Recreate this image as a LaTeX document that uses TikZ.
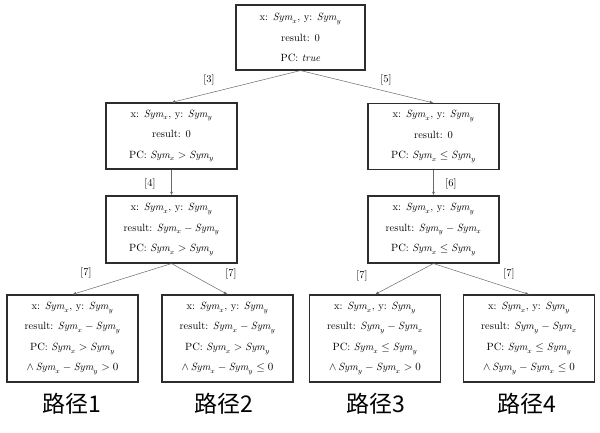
\documentclass[tikz,border=0pt]{standalone}
\usepackage{amsmath,amssymb}
\usepackage{fontspec}
\newfontfamily\cjk{Noto Sans CJK SC}
\usetikzlibrary{arrows.meta,positioning}
\definecolor{boxgray}{RGB}{45,45,45}
\definecolor{edgegray}{RGB}{105,105,105}
\newcommand{\symx}{\mathit{Sym}_x}
\newcommand{\symy}{\mathit{Sym}_y}

\begin{document}
\begin{tikzpicture}[x=1pt,y=-1pt,every node/.style={font=\fontsize{10.5}{20.5}\selectfont},
  statebox/.style={draw=boxgray,line width=1.1pt,align=center,inner sep=0pt,minimum width=131pt},
  pathlabel/.style={font=\cjk\fontsize{23}{23}\selectfont},
  edge/.style={draw=edgegray,line width=0.5pt,-{Latex[length=1.3mm,width=1mm]}}]
\useasboundingbox (0,0) rectangle (600,433);
% 根
\node[statebox,minimum width=129pt,minimum height=65pt] (root) at (300.5,37.5)
  {x: $\symx$, y: $\symy$\\ result: 0\\ PC: $\mathit{true}$};
% 第二层
\node[statebox,minimum height=66pt] (xgt) at (171.5,136)
  {x: $\symx$, y: $\symy$\\ result: 0\\ PC: $\symx > \symy$};
\node[statebox,minimum height=66pt] (xle) at (433.5,136.5)
  {x: $\symx$, y: $\symy$\\ result: 0\\ PC: $\symx \le \symy$};
% 第三层
\node[statebox,minimum height=67pt] (xgtres) at (171.5,229.5)
  {x: $\symx$, y: $\symy$\\ result: $\symx - \symy$\\ PC: $\symx > \symy$};
\node[statebox,minimum height=67pt] (xleres) at (433.5,229.5)
  {x: $\symx$, y: $\symy$\\ result: $\symy - \symx$\\ PC: $\symx \le \symy$};
% 叶子
\node[statebox,minimum height=87pt] (leafa) at (72.5,338.5)
  {x: $\symx$, y: $\symy$\\ result: $\symx - \symy$\\ PC: $\symx > \symy$\\ $\wedge\,\symx - \symy > 0$};
\node[statebox,minimum height=87pt] (leafb) at (227.5,338.5)
  {x: $\symx$, y: $\symy$\\ result: $\symx - \symy$\\ PC: $\symx > \symy$\\ $\wedge\,\symx - \symy \le 0$};
\node[statebox,minimum height=87pt] (leafc) at (375,338.5)
  {x: $\symx$, y: $\symy$\\ result: $\symy - \symx$\\ PC: $\symx \le \symy$\\ $\wedge\,\symy - \symx > 0$};
\node[statebox,minimum height=87pt] (leafd) at (529,338.5)
  {x: $\symx$, y: $\symy$\\ result: $\symy - \symx$\\ PC: $\symx \le \symy$\\ $\wedge\,\symy - \symx \le 0$};
% 边
\draw[edge] (root.south) -- (xgt.north);
\draw[edge] (root.south) -- (xle.north);
\draw[edge] (xgt.south) -- (xgtres.north);
\draw[edge] (xle.south) -- (xleres.north);
\draw[edge] (xgtres.south) -- (leafa.north);
\draw[edge] (xgtres.south) -- (leafb.north);
\draw[edge] (xleres.south) -- (leafc.north);
\draw[edge] (xleres.south) -- (leafd.north);
\node (lthree) at (209,80) {[3]};
\node (lfive) at (386,80) {[5]};
\node (lfour) at (150,184) {[4]};
\node (lsix) at (451,184) {[6]};
\node (lsevena) at (86,273) {[7]};
\node (lsevenb) at (231,274) {[7]};
\node (lsevenc) at (362,276) {[7]};
\node (lsevend) at (509,274) {[7]};
% 路径
\node[pathlabel] (pone) at (72,404) {路径1};
\node[pathlabel] (ptwo) at (224,404) {路径2};
\node[pathlabel] (pthree) at (376,404) {路径3};
\node[pathlabel] (pfour) at (527,404) {路径4};
\end{tikzpicture}
\end{document}
